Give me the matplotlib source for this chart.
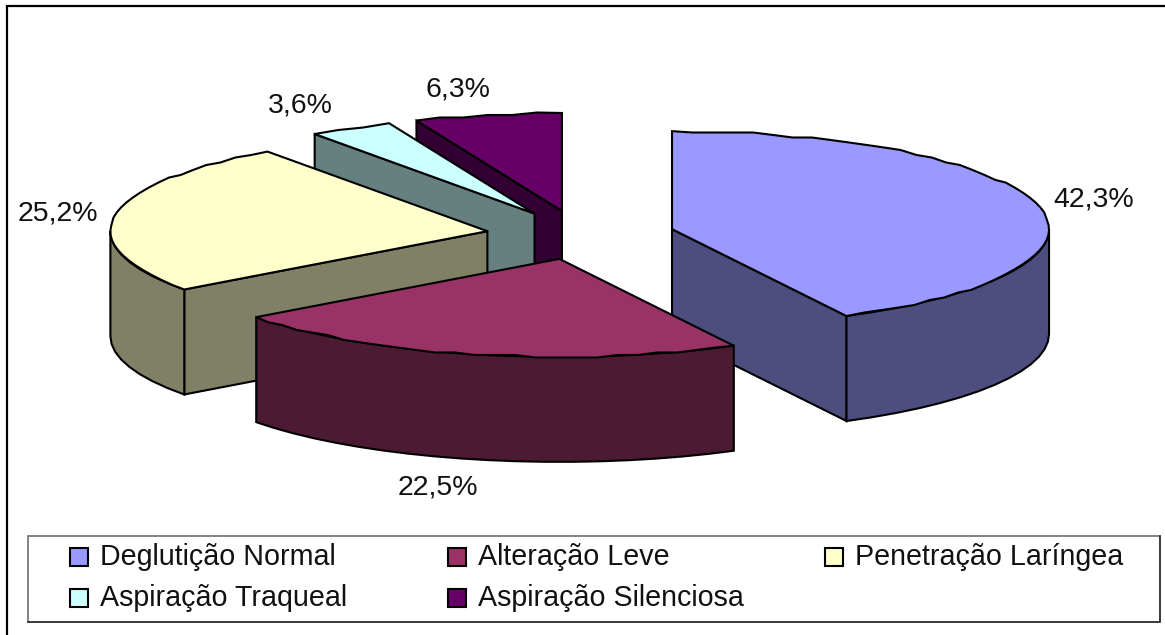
import numpy as np
import matplotlib
matplotlib.use("Agg")
import matplotlib.pyplot as plt
from matplotlib.patches import Polygon, Rectangle

plt.rcParams['font.family'] = ['Liberation Sans', 'DejaVu Sans']

categorias = ['Deglutição Normal', 'Alteração Leve', 'Penetração Laríngea',
              'Aspiração Traqueal', 'Aspiração Silenciosa']
valores = [42.3, 22.5, 25.2, 3.6, 6.3]
etiquetas = ['42,3%', '22,5%', '25,2%', '3,6%', '6,3%']
cores_topo = ['#9999FF', '#993366', '#FFFFCC', '#CCFFFF', '#660066']
cores_lado = ['#4D4D80', '#4D1A33', '#808066', '#668080', '#330033']

# geometria da pizza em perspectiva
cx, cy = 580.5, 235
a, b = 377, 98
altura = 105
explode = 0.25

# posicao das etiquetas e da legenda
pos_etiquetas = [(1094, 200), (438, 487), (58, 213), (300, 106), (458, 89)]
pos_legenda = [(70, 557), (448, 557), (825, 557), (70, 598), (448, 598)]


def ponto(ang, ox, oy):
    t = np.radians(ang)
    return ox + a * np.sin(t), oy - b * np.cos(t)


def desenha_face(ax, pts, cor, z):
    ax.add_patch(Polygon(pts, closed=True, facecolor=cor, edgecolor='black',
                         linewidth=1.5, zorder=z, joinstyle='miter'))


fig = plt.figure(figsize=(11.65, 6.35), dpi=100)
ax = fig.add_axes([0, 0, 1, 1])
ax.set_xlim(0, 1165)
ax.set_ylim(635, 0)
ax.axis('off')

# moldura do grafico, so esquerda e topo ficam dentro da imagem
ax.plot([7, 7, 1165], [635, 6, 6], color='black', linewidth=1.6, solid_joinstyle='miter')

limites = np.concatenate([[0], np.cumsum(valores)]) / sum(valores) * 360

# ordem de tras para frente
ordem = [4, 3, 2, 0, 1]
z = 2
for i in ordem:
    ini, fim = limites[i], limites[i + 1]
    meio = np.radians((ini + fim) / 2)
    ox = cx + explode * a * np.sin(meio)
    oy = cy - explode * b * np.cos(meio)

    # arco do topo em segmentos curtos, com leve serrilhado
    arco = np.linspace(ini, fim, max(int((fim - ini) / 3), 4))
    xs, ys = ponto(arco, ox, oy)
    ys[1:-1] = np.round(ys[1:-1] / 2.5) * 2.5

    # faces radiais voltadas para a frente
    for ang, visivel in ((ini, np.sin(np.radians(ini)) < -1e-6), (fim, np.sin(np.radians(fim)) > 1e-6)):
        if visivel:
            px, py = ponto(ang, ox, oy)
            desenha_face(ax, [(ox, oy), (px, py), (px, py + altura), (ox, oy + altura)], cores_lado[i], z)
            z += 1

    # parede externa, so a metade da frente aparece
    v0, v1 = max(ini, 90), min(fim, 270)
    if v1 > v0:
        arco_v = np.linspace(v0, v1, max(int((v1 - v0) / 4), 4))
        vx, vy = ponto(arco_v, ox, oy)
        pts = list(zip(vx, vy)) + list(zip(vx[::-1], vy[::-1] + altura))
        desenha_face(ax, pts, cores_lado[i], z)
        z += 1

    # topo
    desenha_face(ax, [(ox, oy)] + list(zip(xs, ys)), cores_topo[i], z)
    z += 1

for (x, y), txt in zip(pos_etiquetas, etiquetas):
    ax.text(x, y, txt, fontsize=20.5, ha='center', va='center', color='#111111', zorder=30)

# legenda
ax.add_patch(Rectangle((28, 536), 1132, 86, facecolor='white', edgecolor='#6E6E6E', linewidth=1.2, zorder=31))
ax.plot([28, 1160, 1160], [622, 622, 536], color='#303030', linewidth=1.2, zorder=31)
for (x, y), nome, cor in zip(pos_legenda, categorias, cores_topo):
    ax.add_patch(Rectangle((x, y - 9), 18, 18, facecolor=cor, edgecolor='black', linewidth=1.5, zorder=32))
    ax.text(x + 30, y, nome, fontsize=20.6, ha='left', va='center', color='#111111', zorder=32)

fig.savefig('out.png', dpi=100)
